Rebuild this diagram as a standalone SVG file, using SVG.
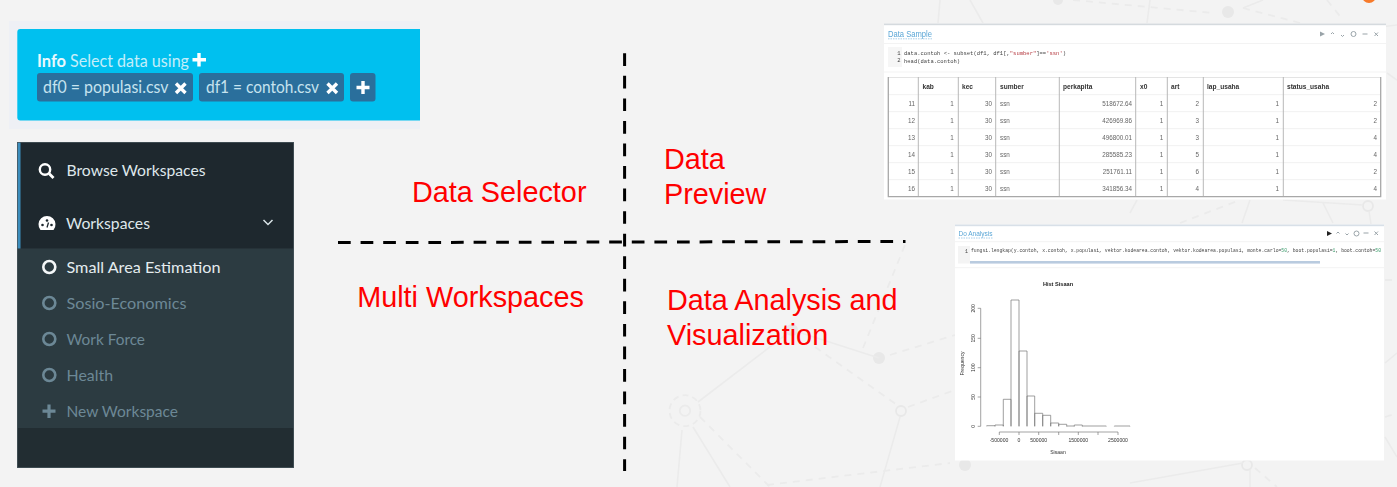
<svg xmlns="http://www.w3.org/2000/svg" width="1397" height="487" viewBox="0 0 1397 487">
<style>
.bg{fill:none;stroke:#ebebeb;stroke-width:1.6}
.bgd{fill:none;stroke:#ebebeb;stroke-width:1.8;stroke-dasharray:7 6}
.bgn{fill:#e8e8e8}
.big{font-family:"Liberation Sans",Arial,sans-serif;font-size:28.8px;fill:#ff0000}
.ui{font-family:Lato,"Noto Sans",sans-serif;font-size:16px}
.tag{font-size:17px;fill:#c6e3ef}
.side{fill:#dfe7eb}
.dim{fill:#6c8896}
.ring{fill:none;stroke-width:2.6}
.wh{stroke:#fff;stroke-width:3.4;fill:none}
.vcol{stroke:#b8b8b8;stroke-width:1}
.hrow{stroke:#f1f1f1;stroke-width:1}
.th{font-family:"Liberation Sans",Arial,sans-serif;font-size:6.6px;font-weight:bold;fill:#333}
.td{font-family:"Liberation Sans",Arial,sans-serif;font-size:6.3px;fill:#666}
.r{text-anchor:end}
.code{font-family:"Liberation Mono",monospace;font-size:5.5px;fill:#444}
.str{fill:#b5383f}
.num{fill:#3a9a6a}
.ttl{font-family:"Liberation Sans",Arial,sans-serif;font-size:9px;fill:#5aa6d6}
.ico{stroke:#99a3a8;stroke-width:1;fill:none}
.ax{font-family:"Liberation Sans",Arial,sans-serif;font-size:5.1px;fill:#333;text-anchor:middle}
.bar{fill:#fff;stroke:#777;stroke-width:.7}
.axl{stroke:#666;stroke-width:.6;fill:none}
.div{fill:none;stroke:#000;stroke-width:3}
</style>
<defs><filter id="soft" x="-2%" y="-2%" width="104%" height="104%"><feGaussianBlur stdDeviation="0.38"/></filter></defs>
<rect width="1397" height="487" fill="#f3f3f3"/>
<g id="background">
<circle cx="685" cy="410.7" r="15.5" fill="none" stroke="#ebebeb" stroke-width="1.8" stroke-dasharray="6 4"/>
<circle cx="685" cy="410.7" r="5.2" fill="none" stroke="#ebebeb" stroke-width="1.8"/>
<circle cx="901" cy="411" r="5" fill="none" stroke="#e8e8e8" stroke-width="1.8"/>
<circle cx="879" cy="358" r="6" class="bgn"/>
<circle cx="792" cy="330" r="6" class="bgn"/>
<circle cx="1228" cy="12" r="6" class="bgn"/>
<circle cx="1058" cy="0" r="5" class="bgn"/>
<circle cx="1368" cy="206" r="5" fill="none" stroke="#e8e8e8" stroke-width="1.8"/>
<circle cx="1247" cy="465" r="5" fill="none" stroke="#e8e8e8" stroke-width="1.8"/>
<circle cx="965" cy="465" r="6" class="bgn"/>
<path class="bg" d="M698 402L792 330M792 330L879 358M900 417L880 487M693 427L730 487M682 430L677 487M1130 213L1137 200M1250 200L1242 223M1283 200L1363 205M1323 203L1333 223M1369 211L1371 224M1385 363L1397 353M1385 437L1397 457M1130 483L1243 463M1250 470L1250 487M1150 0L1147 23M1243 8L1263 0M1387 73L1397 80M940 0L938 23M970 0L983 23M1380 27L1397 25"/>
<path class="bgd" d="M890 355L955 335M863 348L907 240M815 347L897 405M908 407L955 390M700 417L770 487M767 485L950 463M1180 223L1240 200M1385 280L1397 280M1385 417L1397 413M1255 468L1277 487M1073 0L1213 13M1243 8L1300 23M1327 0L1343 20"/>
<circle cx="1369" cy="-4" r="7" fill="#f77a2a"/>
</g>
<g id="connectors">
<path class="div" d="M624.6 53.3V471" stroke-dasharray="12.7 9.85"/>
<path class="div" d="M338 242.6L905.5 241.5" stroke-dasharray="12.7 9.9"/>
</g>
<g id="label-data-selector"><text class="big" x="412" y="202">Data Selector</text></g>
<g id="label-data-preview"><text class="big" x="664" y="169">Data</text><text class="big" x="664" y="203.5">Preview</text></g>
<g id="label-multi-workspaces"><text class="big" x="357.200" y="307">Multi Workspaces</text></g>
<g id="label-data-analysis"><text class="big" x="667" y="310">Data Analysis and</text><text class="big" x="667" y="345">Visualization</text></g>
<g id="data-selector" class="ui">
<rect x="9" y="21" width="411" height="108" fill="#eef0f5"/>
<path d="M20.300 29H420V120.500H20.300a3 3 0 0 1-3-3V32a3 3 0 0 1 3-3z" fill="#00c0ef"/>
<text x="37" y="66.500" font-weight="bold" fill="#eaf8fd" font-size="16.500">Info</text>
<text x="70" y="66.500" fill="#c4eefa" font-size="16.500" textLength="119" lengthAdjust="spacingAndGlyphs">Select data using</text>
<path class="wh" d="M199 53V66.500M192.500 59.800H206"/>
<rect x="37" y="73" width="156" height="28.500" rx="3" fill="#2a6f9c"/>
<text class="tag" x="43" y="93" textLength="125.500" lengthAdjust="spacingAndGlyphs">df0 = populasi.csv</text>
<path class="wh" d="M176 83.500L185.500 93M185.500 83.500L176 93"/>
<rect x="199" y="73" width="145" height="28.500" rx="3" fill="#2a6f9c"/>
<text class="tag" x="206" y="93" textLength="113" lengthAdjust="spacingAndGlyphs">df1 = contoh.csv</text>
<path class="wh" d="M327.500 83.500L337 93M337 83.500L327.500 93"/>
<rect x="350" y="73" width="25.500" height="28.500" rx="3" fill="#2a6f9c"/>
<path class="wh" d="M363 81V94M356.500 87.500H369.500"/>
</g>
<g id="sidebar" class="ui">
<rect x="17" y="142" width="277" height="326" fill="#222d32"/>
<rect x="17" y="142" width="277" height="106.500" fill="#1e282e"/>
<rect x="17.500" y="248.500" width="276.500" height="179.500" fill="#2c3b41"/>
<rect x="17" y="142" width="3.500" height="106.500" fill="#3c8dbc"/>
<rect x="17.400" y="142.400" width="276.200" height="325.200" fill="none" stroke="#46545b" stroke-width=".8"/>
<g id="browse-workspaces">
<circle cx="45" cy="169.500" r="5.200" fill="none" stroke="#fff" stroke-width="2.400"/>
<path d="M49 173.500L53.500 178" stroke="#fff" stroke-width="2.800"/>
<text class="side" x="66.500" y="175.500" textLength="139" lengthAdjust="spacingAndGlyphs">Browse Workspaces</text>
</g>
<g id="workspaces">
<path d="M40.500 230a8.500 8.500 0 1 1 13 0z" fill="#fff"/>
<circle cx="42.500" cy="225" r="1.300" fill="#1e282e"/><circle cx="47" cy="220.500" r="1.300" fill="#1e282e"/><circle cx="51.500" cy="225" r="1.300" fill="#1e282e"/>
<path d="M47 227.500L48.500 222.500" stroke="#1e282e" stroke-width="1.300"/>
<text class="side" x="66" y="228.500" textLength="84" lengthAdjust="spacingAndGlyphs">Workspaces</text>
<path d="M263.500 220L268 224.500L272.500 220" fill="none" stroke="#d9e3e7" stroke-width="1.500"/>
</g>
<g id="small-area-estimation">
<circle class="ring" cx="49.300" cy="267" r="6" stroke="#f4f7f8"/>
<text x="66.500" y="272.500" fill="#e4ecef" textLength="154" lengthAdjust="spacingAndGlyphs">Small Area Estimation</text>
</g>
<g id="sosio-economics">
<circle class="ring" cx="49.300" cy="303" r="6" stroke="#6c8896"/>
<text class="dim" x="66.500" y="308.500" textLength="120" lengthAdjust="spacingAndGlyphs">Sosio-Economics</text>
</g>
<g id="work-force">
<circle class="ring" cx="49.300" cy="339" r="6" stroke="#6c8896"/>
<text class="dim" x="66.500" y="344.500" textLength="78.500" lengthAdjust="spacingAndGlyphs">Work Force</text>
</g>
<g id="health">
<circle class="ring" cx="49.300" cy="375" r="6" stroke="#6c8896"/>
<text class="dim" x="66.500" y="380.500" textLength="46.500" lengthAdjust="spacingAndGlyphs">Health</text>
</g>
<g id="new-workspace">
<path d="M49 404.500V418M42.500 411.200H55.500" stroke="#6c8896" stroke-width="3.200" fill="none"/>
<text class="dim" x="66.500" y="416.500" textLength="111.500" lengthAdjust="spacingAndGlyphs">New Workspace</text>
</g>
</g>
<g id="data-sample">
<rect x="884" y="23.500" width="502" height="176" fill="#fff"/>
<rect x="884" y="23.500" width="502" height="1.700" fill="#d5dade"/>
<g filter="url(#soft)">
<text class="ttl" x="888" y="36.500" textLength="44" lengthAdjust="spacingAndGlyphs">Data Sample</text>
<path d="M888 38.800H932" stroke="#8fc2e4" stroke-width=".8" stroke-dasharray="1.500 1"/>
<path d="M884 43.500H1386M884 72H1386" stroke="#f3f3f3"/>
<path d="M1320 31.500L1325 34L1320 36.500z" fill="#99a3a8"/>
<path class="ico" d="M1331 34L1332.500 32.500L1334 34M1341 35L1342.500 36.500L1344 35M1362.500 34H1367.500M1374.500 32.500L1378 36M1378 32.500L1374.500 36"/>
<circle class="ico" cx="1353.500" cy="34" r="2.500"/>
<rect x="888" y="47" width="14" height="20" fill="#f6f6f6"/>
<text class="code" x="900.500" y="54.500" text-anchor="end" fill="#aaa">1</text>
<text class="code" x="900.500" y="62" text-anchor="end" fill="#aaa">2</text>
<text class="code" x="904" y="54.800" textLength="162">data.contoh &lt;- subset(df1, df1[,<tspan class="str">"sumber"</tspan>]==<tspan class="str">'ssn'</tspan>)</text>
<text class="code" x="904" y="62.500">head(data.contoh)</text>
<path class="hrow" d="M888 94.700H1381M888 111.700H1381M888 128.700H1381M888 145.700H1381M888 162.700H1381M888 179.700H1381"/>
<path d="M888 77.500H1381" stroke="#ddd" stroke-width=".8"/>
<path class="vcol" d="M918.300 77V197M958.300 77V197M995.700 77V197M1059.300 77V197M1135.700 77V197M1167.300 77V197M1203.300 77V197M1283.300 77V197"/>
<path d="M888.300 77V196.700H1380.700V77" fill="none" stroke="#a8a8a8" stroke-width="1.300"/>
<text class="th" x="922.500" y="88.500">kab</text><text class="th" x="962" y="88.500">kec</text><text class="th" x="1000" y="88.500">sumber</text><text class="th" x="1063" y="88.500">perkapita</text><text class="th" x="1140" y="88.500">x0</text><text class="th" x="1171" y="88.500">art</text><text class="th" x="1207" y="88.500">lap_usaha</text><text class="th" x="1287" y="88.500">status_usaha</text>
<g class="td">
<g transform="translate(0,105.500)"><text class="td r" x="915">11</text><text class="td r" x="953.700">1</text><text class="td r" x="992">30</text><text class="td" x="1000">ssn</text><text class="td r" x="1132">518672.64</text><text class="td r" x="1163.300">1</text><text class="td r" x="1199">2</text><text class="td r" x="1279">1</text><text class="td r" x="1377">2</text></g>
<g transform="translate(0,122.500)"><text class="td r" x="915">12</text><text class="td r" x="953.700">1</text><text class="td r" x="992">30</text><text class="td" x="1000">ssn</text><text class="td r" x="1132">426969.86</text><text class="td r" x="1163.300">1</text><text class="td r" x="1199">3</text><text class="td r" x="1279">1</text><text class="td r" x="1377">2</text></g>
<g transform="translate(0,139.500)"><text class="td r" x="915">13</text><text class="td r" x="953.700">1</text><text class="td r" x="992">30</text><text class="td" x="1000">ssn</text><text class="td r" x="1132">496800.01</text><text class="td r" x="1163.300">1</text><text class="td r" x="1199">3</text><text class="td r" x="1279">1</text><text class="td r" x="1377">4</text></g>
<g transform="translate(0,156.500)"><text class="td r" x="915">14</text><text class="td r" x="953.700">1</text><text class="td r" x="992">30</text><text class="td" x="1000">ssn</text><text class="td r" x="1132">285585.23</text><text class="td r" x="1163.300">1</text><text class="td r" x="1199">5</text><text class="td r" x="1279">1</text><text class="td r" x="1377">4</text></g>
<g transform="translate(0,173.500)"><text class="td r" x="915">15</text><text class="td r" x="953.700">1</text><text class="td r" x="992">30</text><text class="td" x="1000">ssn</text><text class="td r" x="1132">251761.11</text><text class="td r" x="1163.300">1</text><text class="td r" x="1199">6</text><text class="td r" x="1279">1</text><text class="td r" x="1377">2</text></g>
<g transform="translate(0,190.500)"><text class="td r" x="915">16</text><text class="td r" x="953.700">1</text><text class="td r" x="992">30</text><text class="td" x="1000">ssn</text><text class="td r" x="1132">341856.34</text><text class="td r" x="1163.300">1</text><text class="td r" x="1199">4</text><text class="td r" x="1279">1</text><text class="td r" x="1377">4</text></g>
</g>
</g>
</g>
<g id="do-analysis">
<rect x="955" y="224.500" width="429" height="236" fill="#fff"/>
<rect x="955" y="224.500" width="429" height="1.700" fill="#d8e0e8"/>
<g filter="url(#soft)">
<text class="ttl" x="958.500" y="236" textLength="34" lengthAdjust="spacingAndGlyphs" style="font-size:8px">Do Analysis</text>
<path d="M958.500 238H992.500" stroke="#8fc2e4" stroke-width=".8" stroke-dasharray="1.500 1"/>
<path d="M955 241.700H1384M955 267.700H1384" stroke="#f3f3f3"/>
<path d="M1327 231L1332 233.500L1327 236z" fill="#222"/>
<path class="ico" d="M1336.500 233.500L1338 232L1339.500 233.500M1345.500 233.500L1347 235L1348.500 233.500M1363.500 233H1368.500M1374.500 231.500L1378 235M1378 231.500L1374.500 235"/>
<circle class="ico" cx="1356.500" cy="233.500" r="2.500"/>
<rect x="958" y="246" width="12" height="17.500" fill="#f4f4f4"/>
<text class="code" x="968" y="252.500" text-anchor="end" fill="#aaa" style="font-size:5px">1</text>
<text class="code" x="971" y="251.800" textLength="410" style="font-size:4.750px">fungsi.lengkap(y.contoh, x.contoh, x.populasi, vektor.kodearea.contoh, vektor.kodearea.populasi, monte.carlo=<tspan class="num">50</tspan>, boot.populasi=<tspan class="num">1</tspan>, boot.contoh=<tspan class="num">50</tspan></text>
<rect x="970" y="261" width="350" height="2.600" fill="#b9cbdf"/>
<text x="1058" y="285.500" text-anchor="middle" font-family="Liberation Sans,Arial,sans-serif" font-size="5.600" font-weight="bold" fill="#222">Hist Sisaan</text>
<path class="bar" d="M986.700 426.300V425.700H995V426.300M995 426.300V425H1003.300V426.300M1003.300 426.300V399.300H1011V426.300M1011 426.300V300H1019V426.300M1019 426.300V351H1027V426.300M1027 426.300V396H1034.700V426.300M1034.700 426.300V413.300H1042.700V426.300M1042.700 426.300V415.300H1050.700V426.300M1050.700 426.300V423H1058.700V426.300M1058.700 426.300V424.300H1066.700V426.300M1066.700 426.300V426H1074.300V426.300M1074.300 426.300V425H1082.300V426.300M1082.300 426.300V426H1106.300V426.300M1114.300 426.300V426H1130V426.300"/>
<path class="axl" d="M980.700 308.300V426.300M977.700 308.300H980.700M977.700 338.300H980.700M977.700 367.700H980.700M977.700 397H980.700M977.700 426.300H980.700"/>
<path class="axl" d="M999.300 432H1118M999.300 432V435M1019 432V435M1038.700 432V435M1058.700 432V435M1078.300 432V435M1098 432V435M1118 432V435"/>
<text class="ax" x="999" y="442">-500000</text><text class="ax" x="1019" y="442">0</text><text class="ax" x="1038.700" y="442">500000</text><text class="ax" x="1078.300" y="442">1500000</text><text class="ax" x="1118" y="442">2500000</text>
<text class="ax" x="1058" y="454">Sisaan</text>
<text class="ax" transform="translate(974.500,308.300) rotate(-90)">200</text>
<text class="ax" transform="translate(974.500,338.300) rotate(-90)">150</text>
<text class="ax" transform="translate(974.500,367.700) rotate(-90)">100</text>
<text class="ax" transform="translate(974.500,397) rotate(-90)">50</text>
<text class="ax" transform="translate(974.500,426.300) rotate(-90)">0</text>
<text class="ax" transform="translate(963.500,363.500) rotate(-90)">Frequency</text>
</g>
</g>
</svg>
